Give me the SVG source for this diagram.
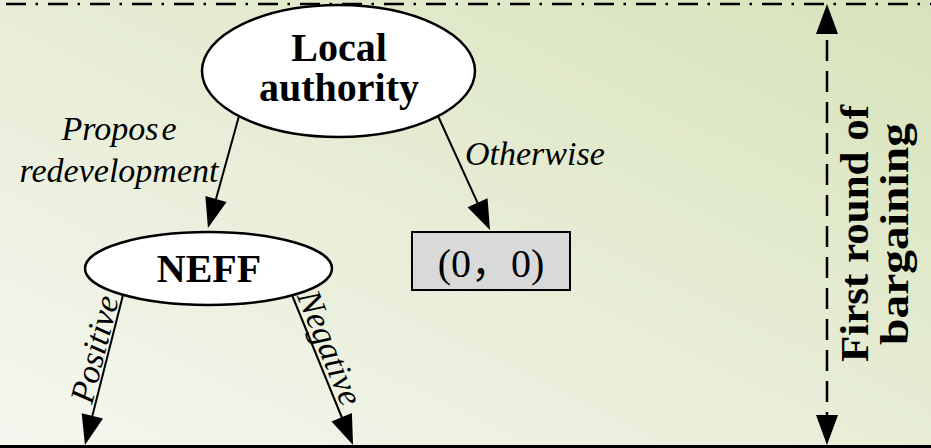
<svg xmlns="http://www.w3.org/2000/svg" width="931" height="448" viewBox="0 0 931 448">
  <defs>
    <linearGradient id="bg" x1="0" y1="1" x2="1" y2="0">
      <stop offset="0" stop-color="#f5f7f0"/>
      <stop offset="0.5" stop-color="#e7edd6"/>
      <stop offset="1" stop-color="#d8e3ba"/>
    </linearGradient>
    <marker id="arrow" markerUnits="userSpaceOnUse" markerWidth="30" markerHeight="22" refX="10" refY="11" orient="auto-start-reverse" overflow="visible">
      <path d="M0,0 L30,11 L0,22 z" fill="#000"/>
    </marker>
    <style>
      .node { fill: #fff; stroke: #000; stroke-width: 2.5; }
      .box { fill: #d9d9d9; stroke: #000; stroke-width: 2; }
      .title { font-family: "Liberation Serif", "Times New Roman", serif; font-weight: bold; font-size: 40px; fill: #000; }
      .label { font-family: "Liberation Serif", "Times New Roman", serif; font-style: italic; font-size: 34px; fill: #000; }
      .payoff { font-family: "Liberation Serif", "Noto Sans CJK SC", serif; font-size: 40px; fill: #000; }
      .edge { fill: none; stroke: #000; stroke-width: 2; marker-end: url(#arrow); }
    </style>
  </defs>

  <!-- background panel -->
  <rect x="0" y="0" width="931" height="448" fill="url(#bg)"/>

  <!-- nodes -->
  <g id="node-local-authority">
    <ellipse class="node" cx="338.5" cy="71" rx="136.5" ry="66"/>
    <text class="title" text-anchor="middle"><tspan x="339" y="61">Local</tspan><tspan x="339" y="101">authority</tspan></text>
  </g>

  <g id="node-neff">
    <ellipse class="node" cx="208.5" cy="268.5" rx="123.5" ry="36.5"/>
    <text class="title" x="209" y="282" text-anchor="middle">NEFF</text>
  </g>

  <g id="node-payoff">
    <rect class="box" x="412" y="232" width="158" height="58"/>
    <text class="payoff" x="491" y="277" text-anchor="middle">(0，0)</text>
  </g>

  <!-- connectors -->
  <g id="connectors">
    <path class="edge" d="M239,116 L213.3,208.7"/>
    <path class="edge" d="M438,116 L481.7,211.8"/>
    <path class="edge" d="M123,295 L89.9,425.6"/>
    <path class="edge" d="M292,295 L345.5,426.5"/>

    <text class="label" x="119" y="140" text-anchor="middle">Propos<tspan dx="3">e</tspan></text>
    <text class="label" x="119" y="182" text-anchor="middle">redevelopment</text>
    <text class="label" x="465" y="165">Otherwise</text>
    <text class="label" transform="translate(105.5,352) rotate(-75.8)" text-anchor="middle">Positive</text>
    <text class="label" transform="translate(319.5,352) rotate(67.9)" text-anchor="middle">Negative</text>
  </g>

  <!-- stage frame: dash-dot top edge and solid bottom edge -->
  <g id="frame">
    <line x1="0" y1="4" x2="931" y2="4" stroke="#000" stroke-width="2.5" stroke-dasharray="20 9.5 2.5 10" stroke-dashoffset="36"/>
    <line x1="0" y1="446.5" x2="931" y2="446.5" stroke="#000" stroke-width="3"/>
  </g>

  <!-- stage extent marker -->
  <g id="round-marker">
    <path d="M827,24 L827,425" fill="none" stroke="#000" stroke-width="2.5" stroke-dasharray="21 10" stroke-dashoffset="-16" marker-start="url(#arrow)" marker-end="url(#arrow)"/>
    <text class="title" transform="translate(868,233.5) rotate(-90)" text-anchor="middle" textLength="257" lengthAdjust="spacingAndGlyphs">First round of</text>
    <text class="title" transform="translate(908,234) rotate(-90)" text-anchor="middle" textLength="222" lengthAdjust="spacingAndGlyphs">bargaining</text>
  </g>
</svg>
